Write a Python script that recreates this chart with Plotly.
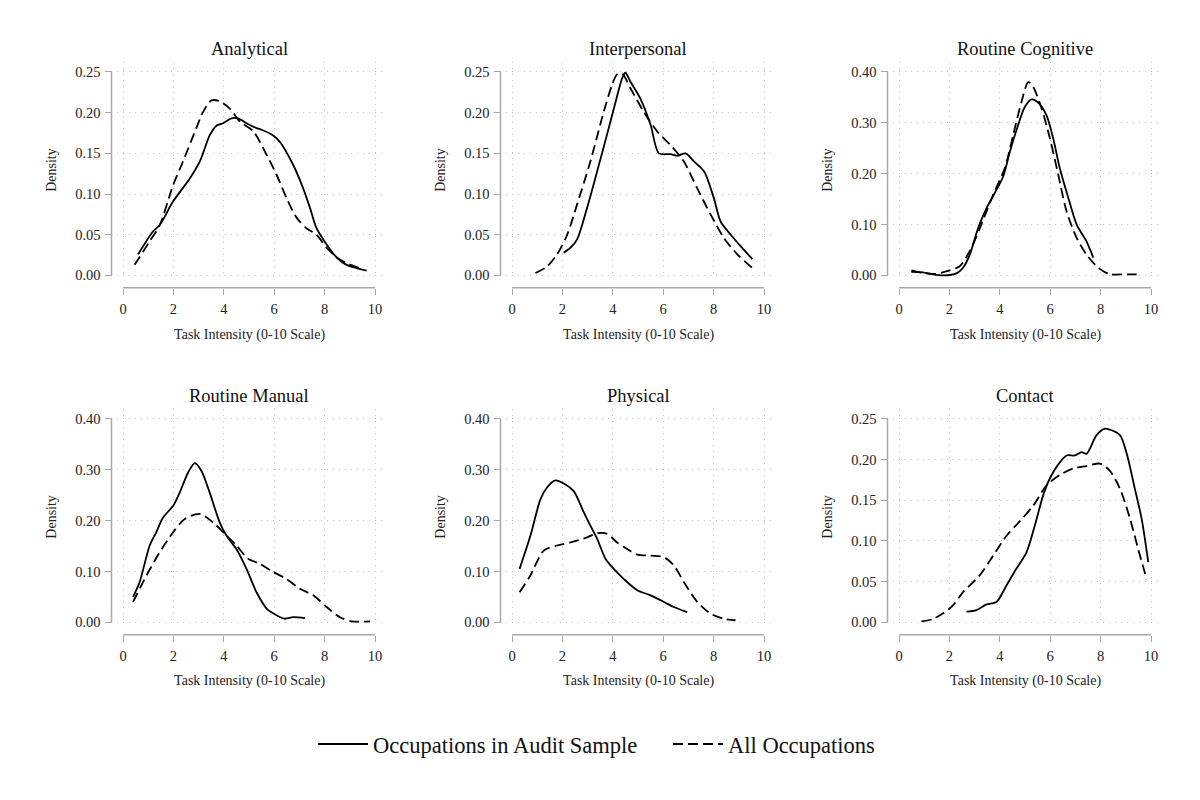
import plotly.graph_objects as go

# ---------------- data ----------------
panel_titles = ["Analytical", "Interpersonal", "Routine Cognitive",
                "Routine Manual", "Physical", "Contact"]
y_max = [0.25, 0.25, 0.40, 0.40, 0.40, 0.25]
y_step = [0.05, 0.05, 0.10, 0.10, 0.10, 0.05]
x_ticks = [0, 2, 4, 6, 8, 10]

# Occupations in Audit Sample (solid) / All Occupations (dashed)
analytical_audit_x = [0.6, 1.19, 1.46, 1.99, 2.65, 3.05, 3.44, 3.71, 3.97, 4.3, 4.57, 4.9, 5.3, 5.5, 5.96, 6.23, 6.75, 7.15, 7.42, 7.68, 8.08, 8.48, 8.87, 9.27, 9.67]
analytical_audit_y = [0.026, 0.054, 0.062, 0.091, 0.119, 0.140, 0.172, 0.184, 0.187, 0.193, 0.193, 0.187, 0.181, 0.179, 0.172, 0.164, 0.136, 0.107, 0.083, 0.058, 0.038, 0.022, 0.013, 0.009, 0.006]
analytical_all_x = [0.46, 1.06, 1.46, 1.99, 2.38, 2.91, 3.18, 3.51, 3.84, 4.24, 4.64, 5.17, 5.7, 6.09, 6.49, 6.89, 7.28, 7.68, 8.08, 8.48, 8.87, 9.4]
analytical_all_y = [0.013, 0.042, 0.062, 0.111, 0.140, 0.181, 0.201, 0.215, 0.214, 0.205, 0.189, 0.177, 0.148, 0.124, 0.095, 0.071, 0.058, 0.050, 0.034, 0.022, 0.015, 0.009]

interpersonal_audit_x = [2.05, 2.32, 2.58, 2.98, 3.38, 3.77, 4.11, 4.37, 4.5, 4.7, 5.1, 5.5, 5.83, 6.29, 6.56, 6.89, 7.22, 7.62, 8.01, 8.28, 8.68, 9.07, 9.54]
interpersonal_audit_y = [0.028, 0.034, 0.044, 0.083, 0.128, 0.173, 0.213, 0.242, 0.249, 0.238, 0.217, 0.185, 0.150, 0.149, 0.147, 0.150, 0.140, 0.128, 0.095, 0.066, 0.050, 0.036, 0.020]
interpersonal_all_x = [0.93, 1.39, 1.79, 2.19, 2.58, 3.11, 3.64, 3.97, 4.17, 4.37, 4.7, 5.23, 5.76, 6.29, 6.82, 7.35, 7.88, 8.41, 8.94, 9.54]
interpersonal_all_y = [0.003, 0.011, 0.026, 0.050, 0.087, 0.140, 0.201, 0.234, 0.247, 0.248, 0.230, 0.201, 0.177, 0.160, 0.140, 0.107, 0.075, 0.046, 0.026, 0.009]

rcog_audit_x = [0.49, 0.95, 1.35, 1.75, 2.28, 2.54, 2.81, 3.14, 3.47, 3.8, 4.13, 4.4, 4.73, 4.99, 5.26, 5.52, 5.85, 6.12, 6.38, 6.72, 7.05, 7.44, 7.71]
rcog_audit_y = [0.007, 0.006, 0.002, 0.0, 0.004, 0.015, 0.041, 0.093, 0.132, 0.162, 0.194, 0.243, 0.296, 0.331, 0.346, 0.340, 0.315, 0.269, 0.211, 0.152, 0.100, 0.067, 0.035]
rcog_all_x = [0.49, 0.95, 1.42, 2.01, 2.41, 2.81, 3.21, 3.74, 4.2, 4.53, 4.86, 5.13, 5.32, 5.66, 5.99, 6.32, 6.65, 7.05, 7.44, 7.91, 8.37, 8.77, 9.43]
rcog_all_y = [0.010, 0.005, 0.003, 0.010, 0.018, 0.048, 0.093, 0.159, 0.211, 0.276, 0.341, 0.380, 0.371, 0.328, 0.269, 0.198, 0.126, 0.074, 0.041, 0.015, 0.002, 0.002, 0.002]

rman_audit_x = [0.4, 0.66, 1.06, 1.32, 1.59, 1.99, 2.25, 2.58, 2.85, 3.11, 3.44, 3.84, 4.11, 4.5, 4.9, 5.3, 5.7, 6.09, 6.42, 6.75, 7.22]
rman_audit_y = [0.050, 0.079, 0.151, 0.177, 0.206, 0.229, 0.255, 0.294, 0.313, 0.298, 0.255, 0.196, 0.170, 0.144, 0.105, 0.059, 0.027, 0.014, 0.007, 0.010, 0.008]
rman_all_x = [0.4, 0.93, 1.46, 1.99, 2.45, 3.05, 3.58, 4.04, 4.5, 4.97, 5.43, 5.96, 6.49, 7.02, 7.55, 8.08, 8.61, 9.07, 9.8]
rman_all_y = [0.040, 0.092, 0.138, 0.177, 0.203, 0.213, 0.196, 0.174, 0.151, 0.125, 0.115, 0.099, 0.085, 0.066, 0.053, 0.030, 0.010, 0.002, 0.002]

phys_audit_x = [0.3, 0.73, 1.13, 1.39, 1.72, 2.12, 2.45, 2.85, 3.11, 3.38, 3.71, 4.04, 4.44, 4.97, 5.5, 6.03, 6.42, 6.95]
phys_audit_y = [0.105, 0.170, 0.242, 0.265, 0.279, 0.271, 0.258, 0.216, 0.190, 0.164, 0.125, 0.105, 0.085, 0.063, 0.053, 0.040, 0.030, 0.020]
phys_all_x = [0.3, 0.73, 1.26, 1.79, 2.32, 2.98, 3.38, 3.77, 4.17, 4.57, 4.97, 5.5, 6.03, 6.42, 6.82, 7.35, 7.88, 8.41, 8.87]
phys_all_y = [0.059, 0.092, 0.141, 0.151, 0.157, 0.167, 0.175, 0.174, 0.157, 0.144, 0.133, 0.131, 0.128, 0.112, 0.079, 0.040, 0.017, 0.007, 0.004]

contact_audit_x = [2.68, 3.07, 3.47, 3.87, 4.26, 4.66, 5.06, 5.39, 5.72, 5.99, 6.32, 6.65, 6.98, 7.25, 7.44, 7.84, 8.17, 8.44, 8.77, 9.03, 9.36, 9.63, 9.89]
contact_audit_y = [0.013, 0.015, 0.022, 0.025, 0.045, 0.066, 0.086, 0.119, 0.156, 0.177, 0.194, 0.205, 0.205, 0.209, 0.207, 0.230, 0.238, 0.236, 0.230, 0.208, 0.164, 0.127, 0.074]
contact_all_x = [0.89, 1.35, 1.75, 2.15, 2.54, 3.21, 3.74, 4.26, 4.79, 5.32, 5.85, 6.38, 6.91, 7.44, 7.97, 8.37, 8.77, 9.17, 9.56, 9.83]
contact_all_y = [0.001, 0.004, 0.011, 0.021, 0.037, 0.058, 0.082, 0.106, 0.124, 0.143, 0.168, 0.181, 0.189, 0.192, 0.195, 0.186, 0.164, 0.127, 0.082, 0.053]

series_names = ["Occupations in Audit Sample", "All Occupations"]

audit_series = [(analytical_audit_x, analytical_audit_y), (interpersonal_audit_x, interpersonal_audit_y),
                (rcog_audit_x, rcog_audit_y), (rman_audit_x, rman_audit_y),
                (phys_audit_x, phys_audit_y), (contact_audit_x, contact_audit_y)]
all_series = [(analytical_all_x, analytical_all_y), (interpersonal_all_x, interpersonal_all_y),
              (rcog_all_x, rcog_all_y), (rman_all_x, rman_all_y),
              (phys_all_x, phys_all_y), (contact_all_x, contact_all_y)]

# ---------------- layout geometry ----------------
W, H = 1200, 800
FONT = "Liberation Serif, Times New Roman, serif"
col_x0 = [123, 512, 899]      # pixel of x = 0
row_y0 = [277.5, 627]         # pixel of y = 0
PXU = 25.2                    # pixels per x unit
TICK_H = 205                  # pixels from y=0 to top tick
X_RANGE = [-0.25, 10.3]
AX_COLOR = "#a8a8a8"
GRID_COLOR = "#c4c4c4"
DASH = "10px,5px"
TXT = "#222222"

fig = go.Figure()
layout = dict(
    width=W, height=H,
    margin=dict(l=0, r=0, t=0, b=0),
    paper_bgcolor="white", plot_bgcolor="white",
    font=dict(family=FONT, color=TXT),
    showlegend=True,
    shapes=[], annotations=[],
)

for i in range(6):
    r, c = divmod(i, 3)
    n = i + 1
    xa = "x" if n == 1 else f"x{n}"
    ya = "y" if n == 1 else f"y{n}"
    xkey = "xaxis" if n == 1 else f"xaxis{n}"
    ykey = "yaxis" if n == 1 else f"yaxis{n}"

    left = col_x0[c] + X_RANGE[0] * PXU
    right = col_x0[c] + X_RANGE[1] * PXU
    ym = y_max[i]
    yr = [-0.012 * ym, 1.048 * ym]
    bottom = row_y0[r] - yr[0] / ym * TICK_H
    top = row_y0[r] - yr[1] / ym * TICK_H

    ypos = (col_x0[c] - 11.5) / W
    xpos = 1 - (row_y0[r] + 12.5) / H

    ticks_y = [round(k * y_step[i], 2) for k in range(int(round(ym / y_step[i])) + 1)]

    layout[xkey] = dict(
        domain=[left / W, right / W], range=X_RANGE, anchor="free", position=xpos,
        tickvals=x_ticks, ticks="outside", ticklen=6, tickcolor=AX_COLOR, tickwidth=1,
        showline=False, zeroline=False, ticklabelstandoff=2,
        showgrid=True, gridcolor=GRID_COLOR, griddash="1px,5px", gridwidth=1,
        tickfont=dict(family=FONT, size=14.5, color=TXT),
        title=dict(text="Task Intensity (0-10 Scale)", font=dict(family=FONT, size=14, color=TXT), standoff=12),
    )
    layout[ykey] = dict(
        domain=[1 - bottom / H, 1 - top / H], range=yr, anchor="free", position=ypos,
        tickvals=ticks_y, tickformat=".2f", ticks="outside", ticklen=7, tickcolor=AX_COLOR, tickwidth=1,
        showline=False, zeroline=False, ticklabelstandoff=1,
        showgrid=True, gridcolor=GRID_COLOR, griddash="1px,5px", gridwidth=1,
        tickfont=dict(family=FONT, size=14.5, color=TXT),
        title=dict(text="Density", font=dict(family=FONT, size=14, color=TXT), standoff=14),
    )
    # offset axis lines spanning the tick range
    layout["shapes"].append(dict(type="line", xref="paper", yref=ya, x0=ypos, x1=ypos, y0=0, y1=ym,
                                 line=dict(color=AX_COLOR, width=1.5)))
    layout["shapes"].append(dict(type="line", xref=xa, yref="paper", x0=x_ticks[0], x1=x_ticks[-1], y0=xpos, y1=xpos,
                                 line=dict(color=AX_COLOR, width=1.5)))
    # panel title
    layout["annotations"].append(dict(
        text=panel_titles[i], xref=xa, yref="paper", x=5, y=1 - (row_y0[r] - 228) / H,
        showarrow=False, xanchor="center", yanchor="middle",
        font=dict(family=FONT, size=18.5, color="#111")))

    ax, ay = audit_series[i]
    bx, by = all_series[i]
    fig.add_trace(go.Scatter(x=ax, y=ay, xaxis=xa, yaxis=ya, mode="lines", name=series_names[0],
                             legendgroup="a", showlegend=(i == 0),
                             line=dict(color="black", width=1.8, shape="spline", smoothing=0.8),
                             hoverinfo="skip"))
    fig.add_trace(go.Scatter(x=bx, y=by, xaxis=xa, yaxis=ya, mode="lines", name=series_names[1],
                             legendgroup="b", showlegend=(i == 0),
                             line=dict(color="black", width=1.8, dash=DASH, shape="spline", smoothing=0.8),
                             hoverinfo="skip"))

layout["legend"] = dict(orientation="h", x=(319 - 6) / W, xanchor="left", y=1 - 750 / H, yanchor="middle",
                        font=dict(family=FONT, size=22.5, color="#111"), itemwidth=50,
                        entrywidth=290, entrywidthmode="pixels",
                        bgcolor="rgba(0,0,0,0)", traceorder="normal")
fig.update_layout(**layout)
fig.write_html("out.html")
